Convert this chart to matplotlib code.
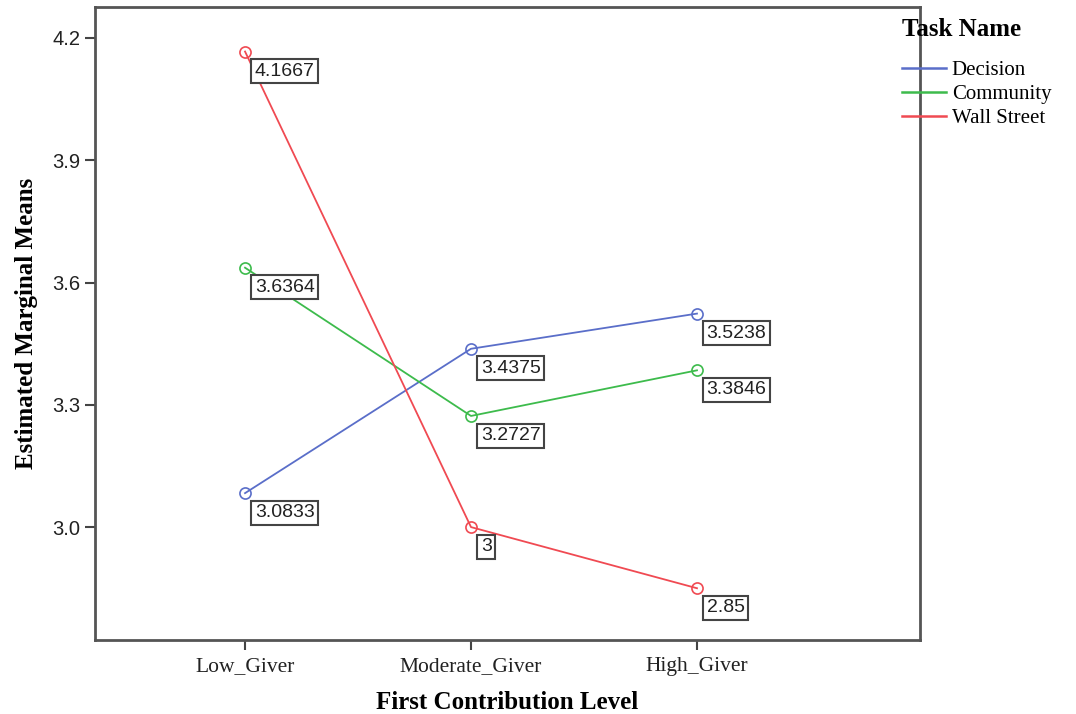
import matplotlib
matplotlib.use("Agg")
import matplotlib.pyplot as plt

categories = ["Low_Giver", "Moderate_Giver", "High_Giver"]
series_names = ["Decision", "Community", "Wall Street"]
decision = [3.0833, 3.4375, 3.5238]
community = [3.6364, 3.2727, 3.3846]
wall_street = [4.1667, 3.0, 2.85]
value_labels = {
    "Decision": ["3.0833", "3.4375", "3.5238"],
    "Community": ["3.6364", "3.2727", "3.3846"],
    "Wall Street": ["4.1667", "3", "2.85"],
}
yticks = [3.0, 3.3, 3.6, 3.9, 4.2]

colors = {"Decision": "#5a6ec9", "Community": "#3dbb4c", "Wall Street": "#f04a52"}
serif = ["Liberation Serif", "DejaVu Serif"]
sans = ["Liberation Sans", "DejaVu Sans"]

fig = plt.figure(figsize=(10.76, 7.14), dpi=100)
ax = fig.add_axes([95/1076, 74/714, 825/1076, 633/714])

x = list(range(len(categories)))
data = {"Decision": decision, "Community": community, "Wall Street": wall_street}
for name in series_names:
    ys = data[name]
    ax.plot(x, ys, color=colors[name], lw=1.3, marker="o", ms=8,
            mfc="none", mec=colors[name], mew=1.2, label=name)
    for xi, yi, lab in zip(x, ys, value_labels[name]):
        ax.annotate(lab, (xi, yi), xytext=(7, -8), textcoords="offset points",
                    ha="left", va="top", fontsize=14, family=sans, color="#222222",
                    bbox=dict(boxstyle="square,pad=0.18", fc="white", ec="#444444", lw=1.5))

ax.set_xlim(-0.664, 2.987)
ax.set_ylim(2.723, 4.276)
ax.set_xticks(x)
ax.set_xticklabels(categories, family=serif, fontsize=15.5)
ax.set_yticks(yticks)
ax.set_yticklabels([f"{v:.1f}" for v in yticks], family=sans, fontsize=14.5)
for s in ax.spines.values():
    s.set_color("#555555")
    s.set_linewidth(2)
ax.tick_params(axis="both", direction="out", length=7, width=1.5, color="#444444", labelcolor="#222222")
ax.tick_params(axis="x", pad=5)

ax.set_xlabel("First Contribution Level", family=serif, fontweight="bold", fontsize=18, labelpad=11)
ax.set_ylabel("Estimated Marginal Means", family=serif, fontweight="bold", fontsize=18, labelpad=10)

leg = ax.legend(loc="upper left", bbox_to_anchor=(0.978, 0.982), frameon=False,
                title="Task Name", prop={"family": serif, "size": 15},
                handlelength=2.1, handletextpad=0.3, labelspacing=0.2,
                borderaxespad=0, borderpad=0)
leg.get_title().set_fontfamily(serif)
leg.get_title().set_fontweight("bold")
leg.get_title().set_fontsize(18)
leg._legend_box.sep = 14
leg._legend_box.align = "left"
for h in leg.legend_handles:
    h.set_marker("")
    h.set_linewidth(1.8)

fig.savefig("out.png", dpi=100)
